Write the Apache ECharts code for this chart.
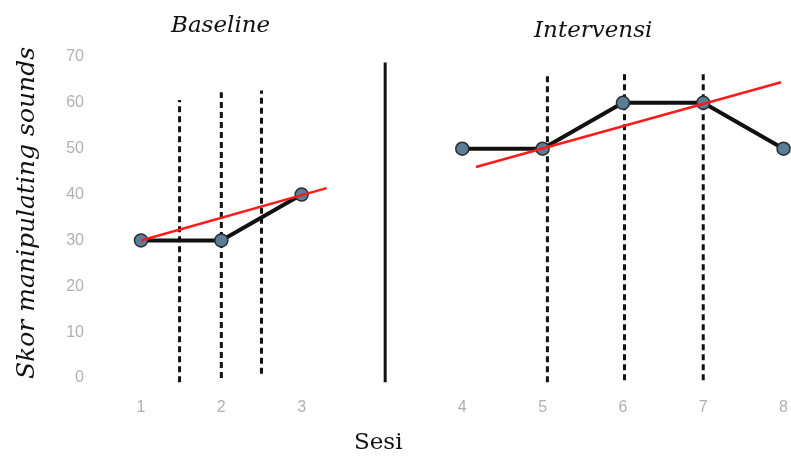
<!DOCTYPE html>
<html><head><meta charset="utf-8">
<script src="https://cdn.jsdelivr.net/npm/echarts@6/dist/echarts.min.js"></script>
<style>html,body{margin:0;padding:0;background:#fff}#c{width:791px;height:462px}</style>
</head><body><div id="c"></div>
<script>
// category slots (blank slot between phases)
var sessionLabels = ['1','2','3','','4','5','6','7','8'];
var baselineX = [0,1,2];
var baselineY = [30,30,40];
var intervensiX = [4,5,6,7,8];
var intervensiY = [50,50,60,60,50];
// trend lines (endpoints)
var trendBaseX = [0, 2.31];
var trendBaseY = [30, 41.4];
var trendIntX = [4.17, 7.97];
var trendIntY = [46, 64.5];
// dashed vertical separators: x, bottom, top
var dashX = [0.48, 1.0, 1.5, 5.06, 6.02, 7.0];
var dashBottom = [-0.9, 0.0, 0.9, -0.9, -0.5, -0.5];
var dashTop = [60.6, 62.3, 62.7, 66.7, 66.7, 66.7];
// phase change line
var phaseX = 3.04, phaseBottom = -0.9, phaseTop = 68.8;
var yTicks = [0,10,20,30,40,50,60,70];

function pairs(xs, ys){ return xs.map(function(x,i){return [x, ys[i]];}); }

var series = [];
dashX.forEach(function(x,i){
  series.push({type:'line', data:[[x,dashBottom[i]],[x,dashTop[i]]], symbol:'none', clip:false,
    lineStyle:{color:'#111', width:3, type:[6,4]}, z:1, silent:true});
});
series.push({type:'line', data:[[phaseX,phaseBottom],[phaseX,phaseTop]], symbol:'none', clip:false,
  lineStyle:{color:'#111', width:3}, z:1, silent:true});
var markerStyle = {color:'#5a7e98', borderColor:'#2b2b2b', borderWidth:1.5};
series.push({type:'line', data:pairs(baselineX, baselineY), symbol:'circle', symbolSize:13,
  lineStyle:{color:'#111', width:4}, itemStyle:markerStyle, z:3, clip:false});
series.push({type:'line', data:pairs(intervensiX, intervensiY), symbol:'circle', symbolSize:13,
  lineStyle:{color:'#111', width:4}, itemStyle:markerStyle, z:3, clip:false});
series.push({type:'line', data:pairs(trendBaseX, trendBaseY), symbol:'none', clip:false,
  lineStyle:{color:'#ff1a1a', width:2.5}, z:4});
series.push({type:'line', data:pairs(trendIntX, trendIntY), symbol:'none', clip:false,
  lineStyle:{color:'#ff1a1a', width:2.5}, z:4});

var chart = echarts.init(document.getElementById('c'), null, {renderer:'canvas'});
chart.setOption({
  animation:false,
  backgroundColor:'#fff',
  grid:{left:141, right:5, top:57, bottom:84},
  xAxis:{type:'value', min:0, max:8, interval:1,
    axisLine:{show:false}, axisTick:{show:false}, splitLine:{show:false},
    axisLabel:{margin:22, color:'#b0b0b0', fontSize:16, fontFamily:'Liberation Sans',
      formatter:function(v){return sessionLabels[v] || '';}}},
  yAxis:{type:'value', min:yTicks[0], max:yTicks[yTicks.length-1], interval:10,
    axisLine:{show:false}, axisTick:{show:false}, splitLine:{show:false},
    axisLabel:{margin:57, color:'#b0b0b0', fontSize:16, fontFamily:'Liberation Sans'}},
  graphic:[
    {type:'text', left:171, top:15, style:{text:'Baseline', font:'italic 23px "DejaVu Serif"', fill:'#111'}},
    {type:'text', left:534, top:20, style:{text:'Intervensi', font:'italic 23px "DejaVu Serif"', fill:'#111'}},
    {type:'text', left:354, top:432, style:{text:'Sesi', font:'23px "DejaVu Serif"', fill:'#111'}},
    {type:'text', x:27, y:213, rotation:Math.PI/2, style:{text:'Skor manipulating sounds', font:'italic 25px "DejaVu Serif"', fill:'#111', align:'center', verticalAlign:'middle'}}
  ],
  series:series
});
</script></body></html>
